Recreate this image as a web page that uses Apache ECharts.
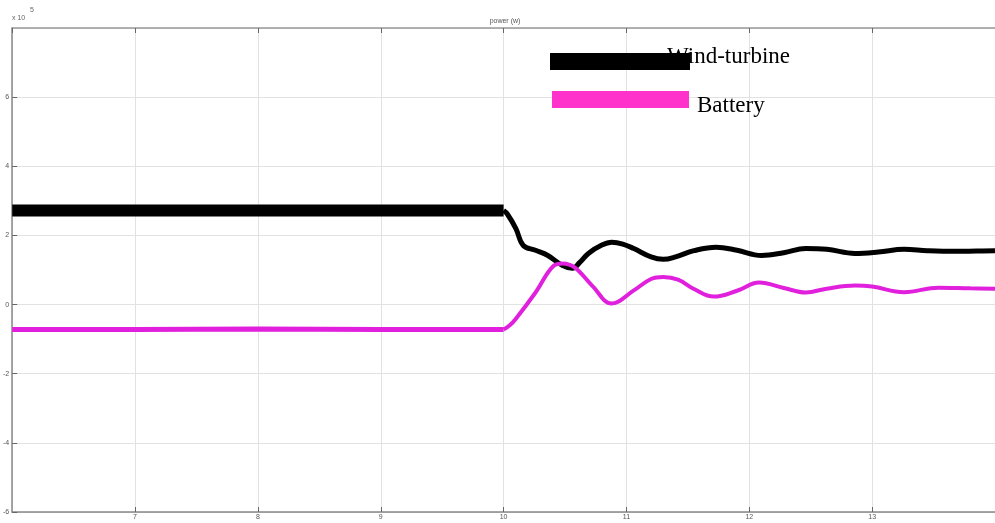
<!DOCTYPE html>
<html>
<head>
<meta charset="utf-8">
<script src="https://cdn.jsdelivr.net/npm/echarts@6/dist/echarts.min.js"></script>
<style>html,body{margin:0;padding:0;background:#fff}#c{width:995px;height:523px}</style>
</head>
<body>
<div id="c"></div>
<script>
// x-axis ticks (time, s) and y-axis ticks (x 10^5 W)
var xTicks = [6, 7, 8, 9, 10, 11, 12, 13, 14];
var yTicks = [-6, -4, -2, 0, 2, 4, 6, 8];
var seriesNames = ['Wind-turbine', 'Battery'];
var switchTime = 10; // before: steady noisy band, after: transient

var windTime  = [6.0, 7.0, 8.0, 9.0, 10.0, 10.03, 10.1, 10.16, 10.26, 10.36, 10.48, 10.56, 10.62, 10.69, 10.8, 10.88, 10.97, 11.06, 11.2, 11.3, 11.4, 11.55, 11.73, 11.9, 12.1, 12.28, 12.46, 12.63, 12.86, 13.05, 13.26, 13.45, 13.67, 13.85, 14.0];
var windPower = [2.72, 2.72, 2.72, 2.72, 2.72, 2.62, 2.2, 1.71, 1.57, 1.42, 1.13, 1.05, 1.22, 1.48, 1.72, 1.80, 1.75, 1.62, 1.38, 1.31, 1.38, 1.56, 1.66, 1.57, 1.42, 1.50, 1.62, 1.60, 1.48, 1.52, 1.60, 1.56, 1.54, 1.55, 1.56];

var batteryTime  = [6.0, 7.0, 8.0, 9.0, 10.0, 10.05, 10.1, 10.26, 10.41, 10.48, 10.58, 10.72, 10.88, 11.06, 11.2, 11.3, 11.42, 11.55, 11.71, 11.9, 12.08, 12.28, 12.46, 12.63, 12.86, 13.0, 13.26, 13.54, 13.8, 14.0];
var batteryPower = [-0.72, -0.72, -0.71, -0.72, -0.72, -0.60, -0.41, 0.35, 1.13, 1.19, 1.07, 0.55, 0.03, 0.41, 0.74, 0.80, 0.72, 0.45, 0.23, 0.40, 0.64, 0.48, 0.35, 0.46, 0.55, 0.52, 0.36, 0.49, 0.47, 0.46];

function pairs(t, v, from, to) {
  var out = [];
  for (var i = 0; i < t.length; i++) {
    if (t[i] >= from && t[i] <= to) out.push([t[i], v[i]]);
  }
  return out;
}

var windColor = '#000000';
var batColor = '#e020dc';

var chart = echarts.init(document.getElementById('c'));
var axisLabelStyle = {color: '#555', fontSize: 7, fontFamily: 'Liberation Sans'};
var legendFont = {fontFamily: 'Liberation Serif', fontSize: 23, fill: '#000'};
chart.setOption({
  animation: false,
  backgroundColor: '#fff',
  title: {
    text: 'power (w)', left: 500, top: 13,
    textAlign: 'center',
    textStyle: {fontSize: 7, fontWeight: 'normal', color: '#555', fontFamily: 'Liberation Sans'}
  },
  graphic: [
    {type: 'text', left: 12, top: 15, style: {text: 'x 10', fontSize: 7, fill: '#666', fontFamily: 'Liberation Sans'}},
    {type: 'text', left: 30, top: 7, style: {text: '5', fontSize: 7, fill: '#666', fontFamily: 'Liberation Sans'}},
    {type: 'text', left: 667, top: 45, z: 10, style: Object.assign({text: seriesNames[0]}, legendFont)},
    {type: 'text', left: 697, top: 94, z: 10, style: Object.assign({text: seriesNames[1]}, legendFont)}
  ],
  legend: [
    {
      data: [{name: seriesNames[0], itemStyle: {color: '#000'}}],
      left: 545, top: 48, icon: 'rect', itemWidth: 140, itemHeight: 17,
      formatter: function () { return ''; }, textStyle: {fontSize: 1}
    },
    {
      data: [{name: seriesNames[1], itemStyle: {color: '#ff33cc'}}],
      left: 547, top: 86, icon: 'rect', itemWidth: 137, itemHeight: 17,
      formatter: function () { return ''; }, textStyle: {fontSize: 1}
    }
  ],
  grid: {left: 12, right: 0, top: 28, bottom: 11, containLabel: false},
  xAxis: [
    {
      type: 'value', min: xTicks[0], max: xTicks[xTicks.length - 1], interval: 1,
      axisLine: {show: true, onZero: false, lineStyle: {color: '#888', width: 1.5}},
      axisTick: {inside: true, length: 5, lineStyle: {color: '#666'}},
      axisLabel: Object.assign({margin: 2, showMinLabel: false, showMaxLabel: false}, axisLabelStyle),
      splitLine: {show: true, lineStyle: {color: '#e2e2e2', width: 1}}
    },
    {
      type: 'value', position: 'top', min: xTicks[0], max: xTicks[xTicks.length - 1], interval: 1,
      axisLine: {show: true, onZero: false, lineStyle: {color: '#999', width: 1.5}},
      axisTick: {inside: true, length: 5, lineStyle: {color: '#666'}},
      axisLabel: {show: false},
      splitLine: {show: false}
    }
  ],
  yAxis: {
    type: 'value', min: yTicks[0], max: yTicks[yTicks.length - 1], interval: 2,
    axisLine: {show: true, onZero: false, lineStyle: {color: '#888', width: 1.5}},
    axisTick: {show: true, inside: true, length: 5, lineStyle: {color: '#666'}},
    axisLabel: Object.assign({margin: 3, showMaxLabel: false}, axisLabelStyle),
    splitLine: {show: true, lineStyle: {color: '#e2e2e2', width: 1}}
  },
  series: [
    {
      name: seriesNames[0], type: 'line', showSymbol: false, smooth: 0.3,
      data: pairs(windTime, windPower, 0, switchTime),
      lineStyle: {color: windColor, width: 12}, itemStyle: {color: windColor}, z: 3
    },
    {
      name: seriesNames[0], type: 'line', showSymbol: false, smooth: 0.4,
      data: pairs(windTime, windPower, switchTime, 100),
      lineStyle: {color: windColor, width: 5}, itemStyle: {color: windColor}, z: 3
    },
    {
      name: seriesNames[1], type: 'line', showSymbol: false, smooth: 0.3,
      data: pairs(batteryTime, batteryPower, 0, switchTime),
      lineStyle: {color: batColor, width: 5}, itemStyle: {color: batColor}, z: 4
    },
    {
      name: seriesNames[1], type: 'line', showSymbol: false, smooth: 0.4,
      data: pairs(batteryTime, batteryPower, switchTime, 100),
      lineStyle: {color: batColor, width: 4}, itemStyle: {color: batColor}, z: 4
    }
  ]
});
</script>
</body>
</html>
